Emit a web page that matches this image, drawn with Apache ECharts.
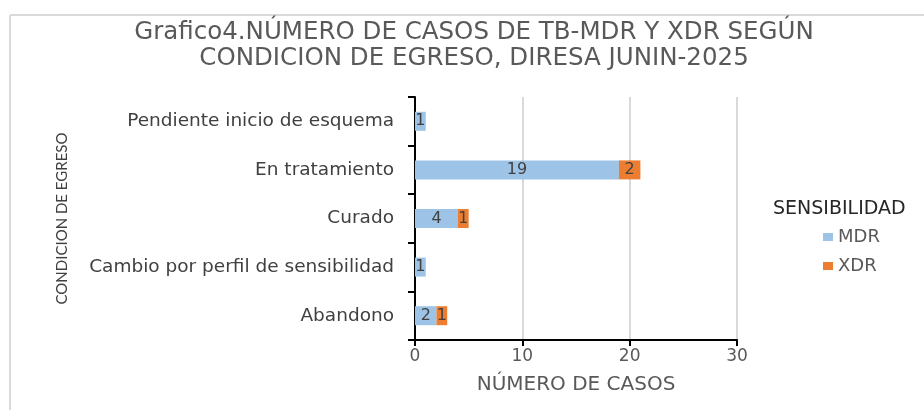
<!DOCTYPE html>
<html><head><meta charset="utf-8">
<script src="https://cdn.jsdelivr.net/npm/echarts@6/dist/echarts.min.js"></script>
<style>html,body{margin:0;padding:0;background:#fff}#c{width:924px;height:410px}</style>
</head><body><div id="c"></div>
<script>
const categories = ["Abandono", "Cambio por perfil de sensibilidad", "Curado", "En tratamiento", "Pendiente inicio de esquema"];
const mdr = [2, 1, 4, 19, 1];
const xdr = [1, 0, 1, 2, 0];
const xTicks = [0, 10, 20, 30];
const seriesNames = ["MDR", "XDR"];
const FONT = "DejaVu Sans";
const chart = echarts.init(document.getElementById('c'), null, {renderer: 'canvas'});
const lbl = {show: true, position: 'inside', color: '#404040', fontSize: 16, fontFamily: FONT,
  formatter: p => p.value === 0 ? '' : p.value};
chart.setOption({
  animation: false,
  backgroundColor: '#fff',
  title: [{
    text: 'Grafico4.NÚMERO DE CASOS DE TB-MDR Y XDR SEGÚN\nCONDICION DE EGRESO, DIRESA JUNIN-2025',
    left: 474, top: 20, textAlign: 'center', padding: 0,
    textStyle: {fontFamily: FONT, fontSize: 24.5, fontWeight: 'normal', color: '#595959', lineHeight: 26}
  }, {
    text: 'SENSIBILIDAD', left: 773, top: 200, padding: 0,
    textStyle: {fontFamily: FONT, fontSize: 19, fontWeight: 'normal', color: '#262626'}
  }],
  legend: {
    orient: 'vertical', left: 818, top: 223, itemGap: 11, itemWidth: 10, itemHeight: 8,
    icon: 'rect', data: seriesNames,
    textStyle: {fontFamily: FONT, fontSize: 18, color: '#595959'}
  },
  grid: {left: 415, right: 187, top: 97, bottom: 70, containLabel: false},
  xAxis: {
    type: 'value', min: xTicks[0], max: xTicks[xTicks.length-1], interval: 10,
    name: 'NÚMERO DE CASOS', nameLocation: 'middle', nameGap: 35,
    nameTextStyle: {fontFamily: FONT, fontSize: 20, color: '#595959'},
    axisLine: {show: true, lineStyle: {color: '#000', width: 2}},
    axisTick: {show: true, length: 6, lineStyle: {color: '#000', width: 2}},
    axisLabel: {fontFamily: FONT, fontSize: 17, color: '#595959', margin: 8},
    splitLine: {show: true, lineStyle: {color: '#d9d9d9', width: 2}}
  },
  yAxis: {
    type: 'category', data: categories,
    name: 'CONDICION DE EGRESO', nameLocation: 'middle', nameGap: 345, nameRotate: 90,
    nameTextStyle: {fontFamily: '"Liberation Sans Narrow", Lato', fontSize: 15, color: '#404040'},
    axisLine: {show: true, lineStyle: {color: '#000', width: 2}},
    axisTick: {show: true, length: 7, lineStyle: {color: '#000', width: 2}},
    axisLabel: {fontFamily: FONT, fontSize: 18.5, color: '#404040', margin: 21},
    splitLine: {show: false}
  },
  series: [
    {name: 'MDR', type: 'bar', stack: 's', data: mdr, barWidth: 19, itemStyle: {color: '#9dc3e6'}, label: lbl},
    {name: 'XDR', type: 'bar', stack: 's', data: xdr, barWidth: 19, itemStyle: {color: '#ed7d31'}, label: lbl}
  ],
  graphic: [
    {type: 'line', shape: {x1: 10, y1: 15, x2: 924, y2: 15}, style: {stroke: '#d9d9d9', lineWidth: 2}},
    {type: 'line', shape: {x1: 10, y1: 15, x2: 10, y2: 410}, style: {stroke: '#d9d9d9', lineWidth: 2}}
  ]
});
</script></body></html>
